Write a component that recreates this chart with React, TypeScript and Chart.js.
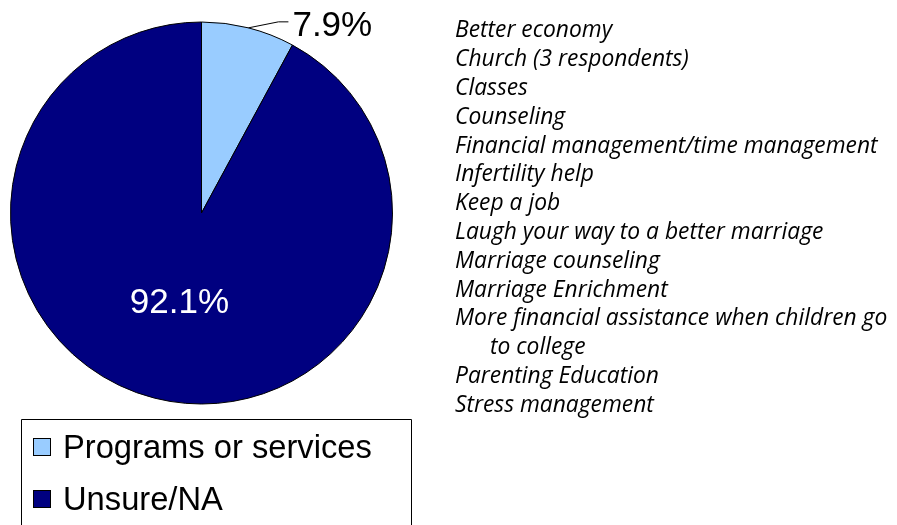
import React, { useEffect, useRef } from "react";
import { Chart, registerables } from "chart.js";

Chart.register(...registerables);

const categories = ["Programs or services", "Unsure/NA"];
const values = [7.9, 92.1];
const valueLabels = ["7.9%", "92.1%"];
const sliceColors = ["#99CCFF", "#000080"];
const responses = [
  "Better economy",
  "Church (3 respondents)",
  "Classes",
  "Counseling",
  "Financial management/time management",
  "Infertility help",
  "Keep a job",
  "Laugh your way to a better marriage",
  "Marriage counseling",
  "Marriage Enrichment",
  "More financial assistance when children go\nto college",
  "Parenting Education",
  "Stress management",
];

const W = 897;
const H = 525;

const overlay = {
  id: "overlay",
  afterDraw(chart: any) {
    const ctx = chart.ctx as CanvasRenderingContext2D;
    const meta = chart.getDatasetMeta(0);
    ctx.save();

    // slice labels
    meta.data.forEach((arc: any, i: number) => {
      const p = arc.getProps(["x", "y", "startAngle", "endAngle", "outerRadius"], true);
      const mid = (p.startAngle + p.endAngle) / 2;
      ctx.font = "35px 'Liberation Sans', Arial, sans-serif";
      if (i === 0) {
        const sx = p.x + Math.cos(mid) * p.outerRadius;
        const sy = p.y + Math.sin(mid) * p.outerRadius;
        ctx.strokeStyle = "#000";
        ctx.lineWidth = 1;
        ctx.beginPath();
        ctx.moveTo(sx, sy);
        ctx.lineTo(sx + 30, sy - 6);
        ctx.lineTo(sx + 40, sy - 6);
        ctx.stroke();
        ctx.fillStyle = "#000";
        ctx.textAlign = "left";
        ctx.textBaseline = "alphabetic";
        ctx.fillText(valueLabels[i], sx + 44, sy + 8);
      } else {
        const r = p.outerRadius * 0.47;
        const cx = p.x + Math.cos(mid) * r;
        const cy = p.y + Math.sin(mid) * r;
        ctx.fillStyle = "#fff";
        ctx.textAlign = "center";
        ctx.textBaseline = "alphabetic";
        ctx.fillText(valueLabels[i], cx, cy + 12.5);
      }
    });

    // legend box
    ctx.strokeStyle = "#000";
    ctx.lineWidth = 1;
    ctx.beginPath();
    ctx.moveTo(21.5, H + 5);
    ctx.lineTo(21.5, 419.5);
    ctx.lineTo(411.5, 419.5);
    ctx.lineTo(411.5, H + 5);
    ctx.stroke();
    ctx.font = "32.7px 'Liberation Sans', Arial, sans-serif";
    ctx.textAlign = "left";
    ctx.textBaseline = "alphabetic";
    categories.forEach((c, i) => {
      const y = 438 + i * 52;
      ctx.fillStyle = sliceColors[i];
      ctx.fillRect(33, y, 18, 18);
      ctx.strokeStyle = "#000";
      ctx.strokeRect(33.5, y + 0.5, 17, 17);
      ctx.fillStyle = "#000";
      ctx.fillText(c, 63, 457.5 + i * 52);
    });

    // response list
    ctx.font = "italic 22.8px 'Open Sans', 'Noto Sans', sans-serif";
    ctx.fillStyle = "#000";
    ctx.textBaseline = "middle";
    let line = 0;
    responses.forEach((r) => {
      r.split("\n").forEach((part, j) => {
        ctx.fillText(part, j === 0 ? 455 : 490, 31 + line * 28.8);
        line++;
      });
    });

    ctx.restore();
  },
};

export default function App() {
  const ref = useRef<HTMLCanvasElement | null>(null);
  useEffect(() => {
    if (!ref.current) return;
    const chart = new Chart(ref.current, {
      type: "pie",
      data: {
        labels: categories,
        datasets: [
          {
            data: values,
            backgroundColor: sliceColors,
            borderColor: "#000",
            borderWidth: 1,
          },
        ],
      },
      options: {
        responsive: false,
        animation: false,
        layout: { padding: { left: 10, top: 21.5, right: W - 393, bottom: H - 404.5 } },
        plugins: {
          legend: { display: false },
          tooltip: { enabled: false },
        },
      },
      plugins: [overlay],
    });
    return () => chart.destroy();
  }, []);
  return (
    <div style={{ position: "fixed", left: 0, top: 0, width: W, height: H, background: "#fff" }}>
      <canvas ref={ref} width={W} height={H} style={{ width: W, height: H }} />
    </div>
  );
}
